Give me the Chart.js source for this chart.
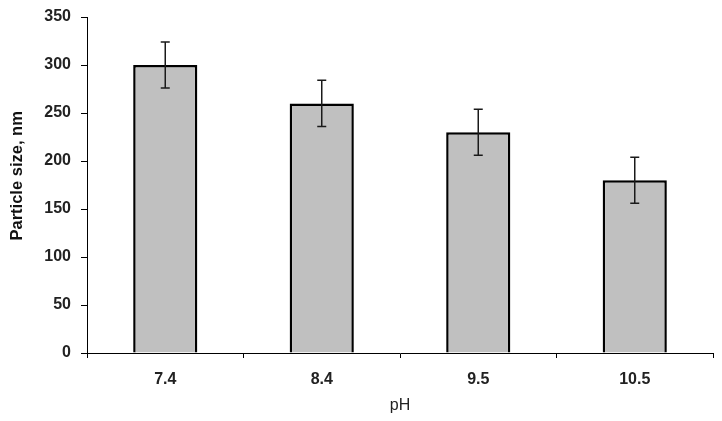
<!DOCTYPE html>
<html>
<head>
<meta charset="utf-8">
<script src="https://cdn.jsdelivr.net/npm/chart.js@4"></script>
<style>
  html, body { margin: 0; padding: 0; background: #fff; }
  #wrap { width: 722px; height: 421px; }
</style>
</head>
<body>
<div id="wrap"><canvas id="chart"></canvas></div>
<script>
const phLabels = ["7.4", "8.4", "9.5", "10.5"];
const particleSize = [300, 260, 230, 180];
const sizeError = [24, 24, 24, 24];
const yTicks = [0, 50, 100, 150, 200, 250, 300, 350];

const FONT = "'Liberation Sans', Arial, sans-serif";

// draws the error bars from the data through the chart's scales
const errorBars = {
  id: "errorBars",
  afterDatasetsDraw(chart) {
    const ctx = chart.ctx;
    const meta = chart.getDatasetMeta(0);
    const y = chart.scales.y;
    ctx.save();
    ctx.strokeStyle = "#1a1a1a";
    ctx.lineWidth = 1.5;
    meta.data.forEach((bar, i) => {
      const top = y.getPixelForValue(particleSize[i] + sizeError[i]);
      const bot = y.getPixelForValue(particleSize[i] - sizeError[i]);
      ctx.beginPath();
      ctx.moveTo(bar.x, top);
      ctx.lineTo(bar.x, bot);
      ctx.moveTo(bar.x - 4.5, top);
      ctx.lineTo(bar.x + 4.5, top);
      ctx.moveTo(bar.x - 4.5, bot);
      ctx.lineTo(bar.x + 4.5, bot);
      ctx.stroke();
    });
    ctx.restore();
  }
};

new Chart(document.getElementById("chart"), {
  type: "bar",
  data: {
    labels: phLabels,
    datasets: [{
      data: particleSize,
      backgroundColor: "#c0c0c0",
      borderColor: "#000",
      borderWidth: 2.5,
      barPercentage: 0.41,
      categoryPercentage: 1
    }]
  },
  options: {
    responsive: true,
    maintainAspectRatio: false,
    animation: false,
    layout: { padding: { top: 17, right: 9, bottom: 0, left: 0 } },
    plugins: {
      legend: { display: false },
      tooltip: { enabled: false }
    },
    scales: {
      x: {
        offset: true,
        grid: { offset: true, drawOnChartArea: false, drawTicks: true, tickLength: 5, color: "#000" },
        border: { display: true, color: "#000", width: 1 },
        ticks: { color: "#222", padding: 12, font: { family: FONT, size: 16, weight: "bold" } },
        title: {
          display: true, text: "pH", color: "#222",
          font: { family: FONT, size: 16 },
          padding: { top: 0, bottom: 6 }
        },
        afterFit(scale) { scale.height = 68; }
      },
      y: {
        min: 0,
        max: 350,
        afterBuildTicks(scale) { scale.ticks = yTicks.map(v => ({ value: v })); },
        grid: { drawOnChartArea: false, drawTicks: true, tickLength: 6, color: "#000" },
        border: { display: true, color: "#000", width: 1 },
        ticks: { color: "#222", padding: 10, font: { family: FONT, size: 16, weight: "bold" } },
        title: {
          display: true, text: "    Particle size, nm", color: "#111",
          font: { family: FONT, size: 16.5, weight: "bold" },
          padding: { top: 8, bottom: 0 }
        },
        afterFit(scale) {
          scale.width = 87;
          scale.paddingTop = 0;
          scale.paddingBottom = 0;
        }
      }
    }
  },
  plugins: [errorBars]
});
</script>
</body>
</html>
